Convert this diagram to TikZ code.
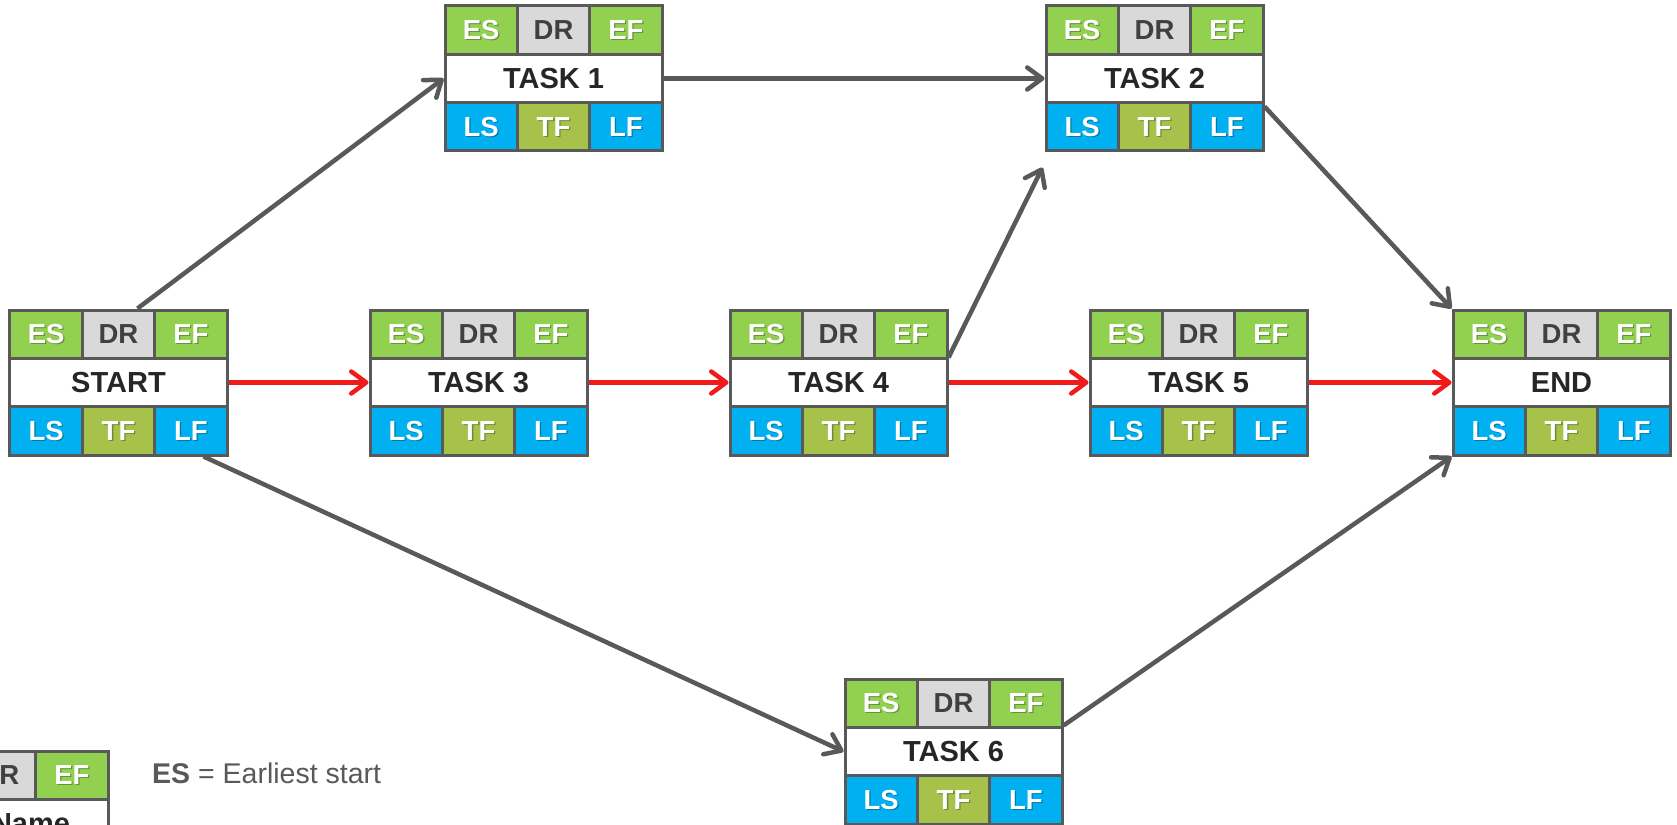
\documentclass[tikz,border=0pt]{standalone}
\usepackage{fontspec}
\setmainfont{Liberation Sans}
\usetikzlibrary{arrows.meta,calc}

\definecolor{esgreen}{HTML}{92D050}
\definecolor{drgray}{HTML}{D9D9D9}
\definecolor{lsblue}{HTML}{00B0F0}
\definecolor{tfolive}{HTML}{A6C24A}
\definecolor{frame}{HTML}{595959}
\definecolor{namecol}{HTML}{262626}
\definecolor{drtext}{HTML}{404040}
\definecolor{critred}{HTML}{F01A1A}

\newcommand\cw{72.333}
\newcommand\rh{48.333}
\newcommand\lblfont{\fontsize{27.5}{30}\selectfont\bfseries}
\newcommand\namefont{\fontsize{29}{32}\selectfont\bfseries}

% one cell label, white with a soft drop shadow
\newcommand\celllabel[4]{%
  \node[lblshadow] (#1-s) at (#2,#3) {#4};
  \node[lbl] (#1) at (#2,#3) {#4};}

% activity box: name, left, top, title
\newcommand\pertbox[4]{%
  \begin{scope}[shift={(#2,#3)}]
    \fill[esgreen] (0,0) rectangle (\cw,\rh);
    \fill[drgray] (\cw,0) rectangle (2*\cw,\rh);
    \fill[esgreen] (2*\cw,0) rectangle (3*\cw,\rh);
    \fill[white] (0,\rh) rectangle (3*\cw,2*\rh);
    \fill[lsblue] (0,2*\rh) rectangle (\cw,3*\rh);
    \fill[tfolive] (\cw,2*\rh) rectangle (2*\cw,3*\rh);
    \fill[lsblue] (2*\cw,2*\rh) rectangle (3*\cw,3*\rh);
    \draw[grid] (0,\rh) -- (3*\cw,\rh) (0,2*\rh) -- (3*\cw,2*\rh)
      (\cw,0) -- (\cw,\rh) (2*\cw,0) -- (2*\cw,\rh)
      (\cw,2*\rh) -- (\cw,3*\rh) (2*\cw,2*\rh) -- (2*\cw,3*\rh);
    \node[boxframe] (#1) at (1.5*\cw,1.5*\rh) {};
    \celllabel{#1-es}{0.5*\cw}{0.5*\rh}{ES}
    \node[drlbl] (#1-dr) at (1.5*\cw,0.5*\rh) {DR};
    \celllabel{#1-ef}{2.5*\cw}{0.5*\rh}{EF}
    \node[title] (#1-name) at (1.5*\cw,1.5*\rh) {#4};
    \celllabel{#1-ls}{0.5*\cw}{2.5*\rh}{LS}
    \celllabel{#1-tf}{1.5*\cw}{2.5*\rh}{TF}
    \celllabel{#1-lf}{2.5*\cw}{2.5*\rh}{LF}
  \end{scope}}

\begin{document}
\begin{tikzpicture}[x=1pt,y=-1pt,
  grid/.style={draw=frame,line width=3pt},
  boxframe/.style={draw=frame,line width=3pt,minimum width=217pt,minimum height=145pt,inner sep=0pt},
  lbl/.style={text=white,font=\lblfont,inner sep=0pt},
  lblshadow/.style={text=black,opacity=0.3,font=\lblfont,inner sep=0pt,xshift=1.3pt,yshift=-1.3pt},
  drlbl/.style={text=drtext,font=\lblfont,inner sep=0pt},
  title/.style={text=namecol,font=\namefont,inner sep=0pt},
  flow/.style={draw=frame,line width=4.5pt,-{Straight Barb[length=15pt,width=22pt,round]}},
  crit/.style={flow,draw=critred},
  legendtext/.style={text=frame,font=\fontsize{28.5}{32}\selectfont,inner sep=0pt,anchor=base west}]

\useasboundingbox (0,0) rectangle (1677,824);
\clip (0,0) rectangle (1677,824);

\pertbox{start}{10}{310}{START}
\pertbox{t1}{445}{6}{TASK 1}
\pertbox{t2}{1046}{6}{TASK 2}
\pertbox{t3}{370}{310}{TASK 3}
\pertbox{t4}{730}{310}{TASK 4}
\pertbox{t5}{1090}{310}{TASK 5}
\pertbox{end}{1453}{310}{END}
\pertbox{t6}{845}{679}{TASK 6}

% key box, running off the lower left corner
\begin{scope}[shift={(-109,751)}]
  \fill[drgray] (\cw,0) rectangle (2*\cw,\rh);
  \fill[esgreen] (2*\cw,0) rectangle (3*\cw,\rh);
  \fill[white] (0,\rh) rectangle (3*\cw,2*\rh);
  \draw[grid] (0,\rh) -- (3*\cw,\rh) (2*\cw,0) -- (2*\cw,\rh);
  \node[boxframe] (key) at (1.5*\cw,1.5*\rh) {};
  \node[drlbl] (key-dr) at (1.5*\cw,0.5*\rh) {DR};
  \celllabel{key-ef}{2.5*\cw}{0.5*\rh}{EF}
\end{scope}
\node[title] (key-name) at (30.5,823.5) {Name};
\node[legendtext] (key-es) at (152,783) {\bfseries ES\mdseries{} = Earliest start};

% connector end points on the box borders
\coordinate (startN) at ($(start.north west)+(129,0)$);
\coordinate (startS) at ($(start.south west)+(195,0)$);
\coordinate (t4ne) at ($(t4.north east)+(0,49)$);
\coordinate (t2in) at ($(t2.south west)+(-2,15)$);
\coordinate (t2out) at ($(t2.south east)+(0,-46)$);
\coordinate (t6out) at ($(t6.north east)+(0,48)$);

% dependencies
\draw[flow] (startN) -- (t1.west);
\draw[flow] (t1.east) -- (t2.west);
\draw[flow] (t4ne) -- (t2in);
\draw[flow] (t2out) -- (end.north west);
\draw[flow] (startS) -- (t6.west);
\draw[flow] (t6out) -- (end.south west);

% critical path
\draw[crit] (start.east) -- (t3.west);
\draw[crit] (t3.east) -- (t4.west);
\draw[crit] (t4.east) -- (t5.west);
\draw[crit] (t5.east) -- (end.west);
\end{tikzpicture}
\end{document}
